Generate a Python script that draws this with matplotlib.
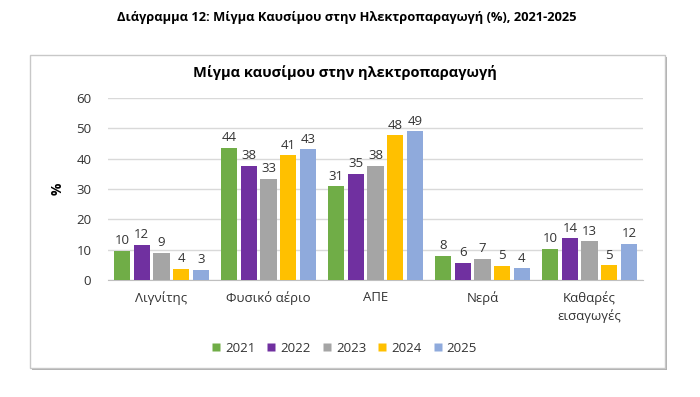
import matplotlib
matplotlib.use("Agg")
import matplotlib.pyplot as plt
from matplotlib.patches import Rectangle
from matplotlib.lines import Line2D
import numpy as np

plt.rcParams['font.family'] = ['Open Sans', 'DejaVu Sans']

categories = ["Λιγνίτης", "Φυσικό αέριο", "ΑΠΕ", "Νερά", "Καθαρές\nεισαγωγές"]
years = ["2021", "2022", "2023", "2024", "2025"]
values = {
    "2021": [9.6, 43.6, 30.9, 7.9, 10.2],
    "2022": [11.6, 37.6, 35.0, 5.6, 13.8],
    "2023": [9.0, 33.3, 37.7, 6.9, 12.8],
    "2024": [3.6, 41.1, 47.7, 4.6, 4.8],
    "2025": [3.4, 43.1, 49.0, 3.8, 12.0],
}
colors = ["#70AD47", "#7030A0", "#A5A5A5", "#FFC000", "#8FAADC"]

W, H = 700, 397
fig = plt.figure(figsize=(7, 3.97), dpi=100)

fig.text(347 / W, 1 - 18 / H, "Διάγραμμα 12: Μίγμα Καυσίμου στην Ηλεκτροπαραγωγή (%), 2021-2025",
         ha="center", va="center", fontsize=9.3, fontweight="bold", color="#000000")

# chart box
fig.patches.append(Rectangle((32 / W, 1 - 370 / H), 635 / W, 313 / H, transform=fig.transFigure,
                             facecolor="#B0B0B0", edgecolor="none", zorder=0))
fig.patches.append(Rectangle((30 / W, 1 - 368 / H), 635 / W, 313 / H, transform=fig.transFigure,
                             facecolor="white", edgecolor="#C8C8C8", linewidth=1, zorder=1))

fig.text(345 / W, 1 - 72 / H, "Μίγμα καυσίμου στην ηλεκτροπαραγωγή",
         ha="center", va="center", fontsize=10.5, fontweight="bold", color="#000000")

ax = fig.add_axes([108 / W, 1 - 280 / H, 535 / W, 182 / H])
ax.set_zorder(2)
ax.patch.set_alpha(0)

x = np.arange(len(categories))
slot = 0.184
bw = 0.152
for i, (yr, c) in enumerate(zip(years, colors)):
    pos = x + (i - 2) * slot
    bars = ax.bar(pos, values[yr], width=bw, color=c, edgecolor="none", zorder=3, label=yr)
    for b, v in zip(bars, values[yr]):
        ax.text(b.get_x() + b.get_width() / 2, v + 1.2, format(v, ".0f"),
                ha="center", va="bottom", fontsize=9.5, color="#333333")

ax.set_xlim(-0.5, len(categories) - 0.5)
ax.set_ylim(0, 60)
ax.set_yticks(range(0, 61, 10))
ax.yaxis.grid(True, color="#D9D9D9", linewidth=1, zorder=0)
ax.set_axisbelow(True)
for s in ["top", "right", "left"]:
    ax.spines[s].set_visible(False)
ax.spines["bottom"].set_color("#BFBFBF")
ax.tick_params(axis="both", length=0, labelsize=9.5, colors="#333333")
ax.tick_params(axis="y", pad=12)
ax.tick_params(axis="x", pad=8)
ax.set_xticks(x)
ax.set_xticklabels(categories, linespacing=1.4)
ax.set_ylabel("%", fontsize=10, fontweight="bold", color="#000000", labelpad=8)

handles = [Line2D([], [], marker="s", linestyle="none", markersize=6, markerfacecolor=c,
                  markeredgecolor="none") for c in colors]
fig.legend(handles, years, loc="center", bbox_to_anchor=(344 / W, 1 - 348 / H), ncol=5,
           frameon=False, fontsize=9.5, handlelength=0.8, handletextpad=0.3, columnspacing=0.8,
           labelcolor="#333333")

fig.savefig("out.png", dpi=100)
